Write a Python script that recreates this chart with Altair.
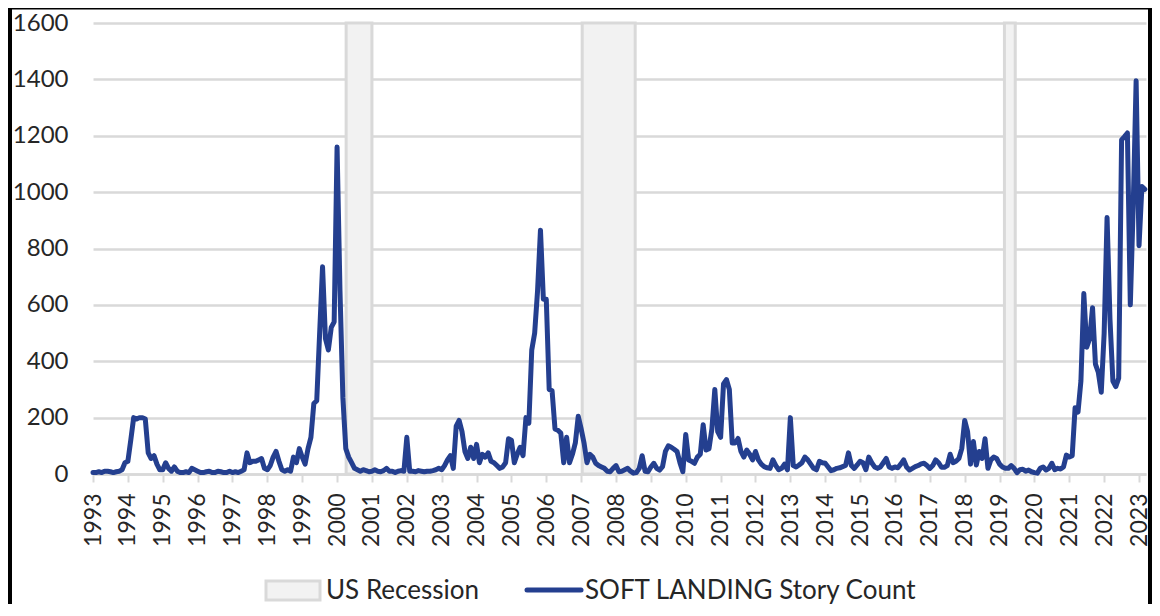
import altair as alt
import pandas as pd

START_YEAR = 1993

counts_1993_1999 = [
    5, 5, 8, 5, 10, 10, 8, 5, 8, 10, 15, 40,
    45, 120, 200, 195, 200, 200, 195, 75, 55, 65, 35, 15,
    15, 40, 20, 10, 25, 10, 5, 5, 8, 5, 20, 15,
    10, 5, 5, 8, 10, 5, 5, 10, 8, 5, 5, 10,
    5, 8, 5, 10, 15, 75, 40, 45, 45, 50, 55, 20,
    15, 30, 60, 80, 45, 15, 10, 15, 10, 60, 40, 90,
    60, 35, 90, 130, 250, 260, 500, 735, 480, 440, 520, 540,
]
counts_2000_2009 = [
    1160, 650, 270, 90, 60, 40, 20, 15, 10, 15, 12, 8,
    10, 15, 10, 8, 12, 20, 10, 10, 5, 10, 12, 10,
    130, 10, 10, 8, 12, 10, 8, 10, 10, 12, 15, 20,
    15, 30, 50, 65, 20, 170, 190, 150, 80, 55, 95, 55,
    105, 40, 70, 60, 75, 45, 40, 30, 20, 25, 40, 125,
    120, 40, 70, 95, 65, 200, 180, 440, 500, 650, 865, 620,
    620, 300, 295, 160, 155, 145, 40, 130, 40, 70, 110, 205,
    160, 110, 40, 70, 60, 38, 30, 25, 20, 10, 8, 20,
    30, 8, 10, 15, 20, 10, 3, 5, 20, 65, 10, 8,
    25, 38, 20, 14, 26, 80, 100, 95, 88, 80, 40, 8,
]
counts_2010_2019 = [
    140, 50, 45, 38, 60, 70, 175, 85, 90, 160, 300, 150,
    130, 320, 335, 300, 110, 110, 126, 80, 60, 85, 70, 50,
    80, 50, 35, 26, 22, 20, 50, 30, 15, 20, 35, 15,
    200, 30, 25, 32, 40, 60, 50, 35, 20, 15, 45, 40,
    38, 25, 12, 15, 20, 22, 26, 30, 75, 30, 20, 32,
    45, 40, 15, 60, 40, 25, 20, 25, 40, 55, 25, 20,
    25, 22, 35, 50, 25, 14, 20, 26, 30, 36, 38, 30,
    20, 30, 50, 40, 24, 24, 30, 70, 40, 45, 55, 90,
    190, 150, 35, 115, 32, 80, 55, 125, 20, 50, 60, 55,
    35, 25, 20, 20, 30, 20, 5, 15, 17, 10, 14, 8,
]
counts_2020_2023 = [
    5, 3, 20, 25, 14, 20, 38, 15, 20, 18, 25, 67,
    60, 65, 235, 220, 330, 640, 450, 480, 590, 390, 360, 290,
    500, 910, 550, 330, 310, 340, 1185, 1197, 1210, 600, 950, 1395,
    810, 1020, 1010,
]

recession_start = [2000.26, 2007.03, 2019.14]
recession_end = [2001.0, 2008.55, 2019.45]

year_ticks = list(range(1993, 2024))
y_ticks = list(range(0, 1601, 200))

series_name = "SOFT LANDING Story Count"
recession_name = "US Recession"

counts = counts_1993_1999 + counts_2000_2009 + counts_2010_2019 + counts_2020_2023
df = pd.DataFrame({
    "t": [START_YEAR + i / 12 for i in range(len(counts))],
    "count": counts,
})
rec_df = pd.DataFrame({"start": recession_start, "end": recession_end})

FONT = "Lato"
TEXT_COLOR = "#262626"
GRID = "#d9d9d9"
BLUE = "#243f8f"

x_scale = alt.Scale(domain=[1993, 2023.2], nice=False, zero=False)
y_scale = alt.Scale(domain=[0, 1600], nice=False)

x_axis = alt.Axis(
    values=year_ticks, format="d", labelAngle=270, labelFont=FONT,
    labelFontSize=23, labelColor=TEXT_COLOR, labelPadding=11,
    tickSize=8, tickColor=GRID, tickWidth=2, domainColor=GRID,
    domainWidth=2.5, grid=False, title=None, labelOverlap=False,
    labelFlush=False, labelBound=False,
)
y_axis = alt.Axis(
    values=y_ticks, format="d", labelFont=FONT, labelFontSize=24,
    labelColor=TEXT_COLOR, labelPadding=25, domain=False, ticks=False,
    grid=True, gridColor=GRID, gridWidth=2.5, title=None,
)

bands = alt.Chart(rec_df).mark_rect(
    fill="#f2f2f2", stroke=GRID, strokeWidth=3
).encode(
    x=alt.X("start:Q", scale=x_scale, axis=x_axis),
    x2="end:Q",
    y=alt.Y(datum=0, scale=y_scale, axis=y_axis),
    y2=alt.datum(1600),
)

line = alt.Chart(df).mark_line(
    color=BLUE, strokeWidth=5, strokeJoin="round", strokeCap="round"
).encode(
    x=alt.X("t:Q", scale=x_scale, axis=x_axis),
    y=alt.Y("count:Q", scale=y_scale, axis=y_axis),
)

leg_df = pd.DataFrame({"rec": [recession_name], "ser": [series_name]})
leg_rect = alt.Chart(leg_df).mark_rect(
    fill="#f2f2f2", stroke=GRID, strokeWidth=3
).encode(x=alt.value(173), x2=alt.value(227), y=alt.value(558), y2=alt.value(577))
leg_rec_text = alt.Chart(leg_df).mark_text(
    align="left", baseline="middle", font=FONT, fontSize=26, color=TEXT_COLOR
).encode(x=alt.value(233), y=alt.value(568), text="rec:N")
leg_line = alt.Chart(leg_df).mark_rule(
    stroke=BLUE, strokeWidth=5, strokeCap="round"
).encode(x=alt.value(434), x2=alt.value(488), y=alt.value(567))
leg_ser_text = alt.Chart(leg_df).mark_text(
    align="left", baseline="middle", font=FONT, fontSize=26, color=TEXT_COLOR
).encode(x=alt.value(492), y=alt.value(568), text="ser:N")

frame_left = alt.Chart(leg_df).mark_rule(color="black", strokeWidth=4).encode(
    x=alt.value(-83), y=alt.value(-15), y2=alt.value(600))
frame_right = alt.Chart(leg_df).mark_rule(color="black", strokeWidth=4).encode(
    x=alt.value(1057), y=alt.value(-15), y2=alt.value(600))
frame_top = alt.Chart(leg_df).mark_rule(color="black", strokeWidth=3).encode(
    x=alt.value(-85), x2=alt.value(1059), y=alt.value(-15))

chart = alt.layer(
    bands, line, leg_rect, leg_rec_text, leg_line, leg_ser_text,
    frame_left, frame_right, frame_top,
).properties(
    width=1053, height=451,
    autosize=alt.AutoSizeParams(type="none"),
    padding={"left": 85, "top": 15, "right": 6, "bottom": 130},
).configure_view(stroke=None)

chart.save("out.html", embed_options={"renderer": "svg", "actions": False})
